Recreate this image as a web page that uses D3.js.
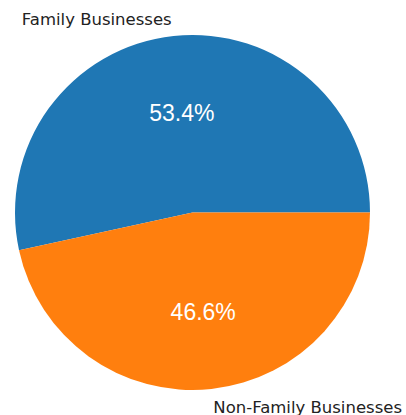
<!DOCTYPE html>
<html><head><meta charset="utf-8">
<script src="https://cdn.jsdelivr.net/npm/d3@7"></script>
<style>html,body{margin:0;padding:0;background:#fff;}</style>
</head><body>
<svg id="c" width="406" height="415"></svg>
<script>
const categories = ["Family Businesses", "Non-Family Businesses"];
const values = [53.4, 46.6];
const colors = ["#1f77b4", "#ff7f0e"];

const svg = d3.select("#c");
const cx = 192.5, cy = 212.5, R = 177.5;
const g = svg.append("g").attr("transform", `translate(${cx},${cy})`);

// matplotlib: start at 3 o'clock, counterclockwise
const pie = d3.pie().sort(null)
  .startAngle(Math.PI / 2).endAngle(Math.PI / 2 - 2 * Math.PI)
  .value(d => d);
const arcs = pie(values);
const arc = d3.arc().innerRadius(0).outerRadius(R);

g.selectAll("path").data(arcs).enter().append("path")
  .attr("d", arc).attr("fill", (d, i) => colors[i]);

const labelArc = d3.arc().innerRadius(R * 1.1).outerRadius(R * 1.1);
g.selectAll("text.lab").data(arcs).enter().append("text")
  .attr("class", "lab")
  .attr("x", d => labelArc.centroid(d)[0])
  .attr("y", d => labelArc.centroid(d)[1])
  .attr("dy", "0.4em")
  .attr("text-anchor", d => labelArc.centroid(d)[0] < 0 ? "end" : "start")
  .attr("font-family", "DejaVu Sans")
  .attr("font-size", 16.5)
  .attr("fill", "#222")
  .text((d, i) => categories[i]);

const pctArc = d3.arc().innerRadius(R * 0.565).outerRadius(R * 0.565);
g.selectAll("text.pct").data(arcs).enter().append("text")
  .attr("class", "pct")
  .attr("x", d => pctArc.centroid(d)[0])
  .attr("y", d => pctArc.centroid(d)[1])
  .attr("dy", "0.36em")
  .attr("text-anchor", "middle")
  .attr("font-family", "Liberation Sans, Arial, sans-serif")
  .attr("font-size", 23)
  .attr("fill", "#fff")
  .text(d => d.value.toFixed(1) + "%");
</script>
</body></html>
